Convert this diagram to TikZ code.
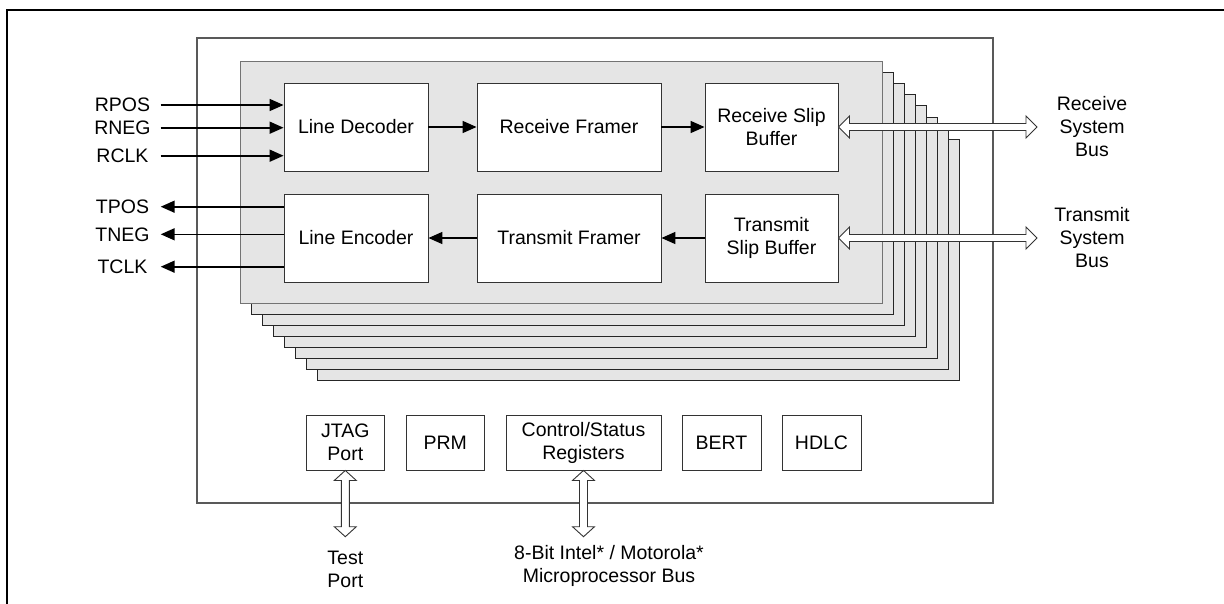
\documentclass[tikz,border=0pt]{standalone}
\usepackage{fontspec}
\setmainfont{Liberation Sans}
\usetikzlibrary{arrows.meta,calc}
\newcommand\fs{\fontsize{19.5}{23}\selectfont}
\begin{document}
\begin{tikzpicture}[x=1pt,y=-1pt,
  txt/.style={font=\fs, align=center, inner sep=0pt},
  blk/.style={txt, draw=black!80, fill=white, line width=0.9pt},
  rbox/.style={blk, minimum height=88pt},
  bbox/.style={blk, minimum height=55pt},
  sl/.style={txt, minimum width=76pt},
  sig/.style={line width=1.6pt, -{Triangle[length=14pt,width=12pt]}},
  card/.style={draw=black!85, fill=black!10, line width=0.9pt},
  dblh/.style={draw=black!80, fill=white, line width=0.9pt,
    to path={let \p1=(\tikztostart), \p2=(\tikztotarget) in
      (\x1,\y1) -- (\x1+11pt,\y1+11pt) -- (\x1+11pt,\y1+3.5pt) -- (\x2-11pt,\y1+3.5pt)
      -- (\x2-11pt,\y1+11pt) -- (\x2,\y1) -- (\x2-11pt,\y1-11pt) -- (\x2-11pt,\y1-3.5pt)
      -- (\x1+11pt,\y1-3.5pt) -- (\x1+11pt,\y1-11pt) -- cycle}},
  dblv/.style={draw=black!80, fill=white, line width=0.9pt,
    to path={let \p1=(\tikztostart), \p2=(\tikztotarget) in
      (\x1,\y1) -- (\x1-11pt,\y1-10pt) -- (\x1-4pt,\y1-10pt) -- (\x1-4pt,\y2+10pt)
      -- (\x1-11pt,\y2+10pt) -- (\x1,\y2) -- (\x1+11pt,\y2+10pt) -- (\x1+4pt,\y2+10pt)
      -- (\x1+4pt,\y1-10pt) -- (\x1+11pt,\y1-10pt) -- cycle}}]
\useasboundingbox (0,0) rectangle (1224,603);
% outer frame
\draw[line width=2.6pt] (1230,10) -- (7,10) -- (7,610);
% chip
\draw[line width=1.3pt, draw=black!65] (197,38) rectangle (993,503);
% stacked cards
\foreach \i in {7,6,...,1} \draw[card] (240+11*\i,61.5+11.1*\i) rectangle +(642.5,241.5);
\draw[card, draw=black!55] (240,61.5) rectangle (882.5,303);
% receive path
\node[rbox, minimum width=144pt] (ld)  at (356,127)   {Line Decoder};
\node[rbox, minimum width=184pt] (rf)  at (569,127)   {Receive Framer};
\node[rbox, minimum width=133pt] (rsb) at (771.5,127) {Receive Slip\\Buffer};
% transmit path
\node[rbox, minimum width=144pt] (le)  at (356,238)   {Line Encoder};
\node[rbox, minimum width=184pt] (tf)  at (569,238)   {Transmit Framer};
\node[rbox, minimum width=133pt] (tsb) at (771.5,238) {Transmit\\Slip Buffer};
% bottom blocks
\node[bbox, minimum width=77.3pt] (jtag) at (345.3,442.5) {JTAG\\Port};
\node[bbox, minimum width=77.3pt] (prm)  at (445.3,442.5) {PRM};
\node[bbox, minimum width=155pt]  (csr)  at (583.5,442.5) {Control/Status\\Registers};
\node[bbox, minimum width=79pt]   (bert) at (721.5,442.5) {BERT};
\node[bbox, minimum width=79pt]   (hdlc) at (821.5,442.5) {HDLC};
% line-side signals
\node[sl] (rpos) at (122.5,105)   {RPOS};
\node[sl] (rneg) at (122.5,127.7) {RNEG};
\node[sl] (rclk) at (122.5,155.7) {RCLK};
\node[sl] (tpos) at (122.5,206.7) {TPOS};
\node[sl] (tneg) at (122.5,234.3) {TNEG};
\node[sl] (tclk) at (122.5,266.7) {TCLK};
\draw[sig] (rpos.east) -- (rpos -| ld.west);
\draw[sig] (rneg.east) -- (rneg -| ld.west);
\draw[sig] (rclk.east) -- (rclk -| ld.west);
\draw[sig] (tpos -| le.west) -- (tpos.east);
\draw[sig] (tneg -| le.west) -- (tneg.east);
\draw[sig] (tclk -| le.west) -- (tclk.east);
% internal flow
\draw[sig] (ld.east) -- (rf.west);
\draw[sig] (rf.east) -- (rsb.west);
\draw[sig] (tsb.west) -- (tf.east);
\draw[sig] (tf.west) -- (le.east);
% system buses
\node[txt] (rbus) at (1092,127)   {Receive\\System\\Bus};
\node[txt] (tbus) at (1092,237.5) {Transmit\\System\\Bus};
\coordinate (rbend) at (1037,127);
\coordinate (tbend) at (1037,238);
\draw[dblh] (rsb.east) to (rbend);
\draw[dblh] (tsb.east) to (tbend);
% bottom buses
\coordinate (jend) at (345.3,536.7);
\coordinate (cend) at (583.5,536.7);
\draw[dblv] (jtag.south) to (jend);
\draw[dblv] (csr.south) to (cend);
\node[txt] (tport) at (345.3,569.5) {Test\\Port};
\node[txt] (mbus)  at (609,566) {8-Bit Intel* / Motorola*\\Microprocessor Bus};
\end{tikzpicture}
\end{document}
